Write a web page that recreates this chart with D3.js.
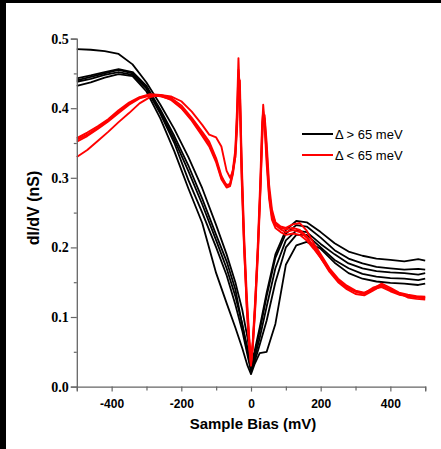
<!DOCTYPE html>
<html><head><meta charset="utf-8">
<script src="https://cdn.jsdelivr.net/npm/d3@7"></script>
<style>body{margin:0;background:#fff}svg{display:block}</style>
</head><body>
<script>
// ---------- data ----------
const biasBlack = [-500,-460,-420,-380,-340,-300,-260,-220,-180,-140,-100,-70,-45,-25,-10,0,10,25,45,70,100,130,160,200,240,280,320,360,400,440,480,500];
const black1 = [0.485,0.484,0.482,0.478,0.463,0.437,0.405,0.370,0.330,0.285,0.232,0.190,0.150,0.110,0.070,0.035,0.050,0.085,0.135,0.190,0.225,0.238,0.236,0.222,0.206,0.194,0.188,0.184,0.182,0.180,0.183,0.181];
const black2 = [0.443,0.447,0.452,0.456,0.452,0.432,0.398,0.360,0.318,0.270,0.218,0.180,0.140,0.088,0.055,0.030,0.045,0.080,0.130,0.185,0.220,0.232,0.230,0.214,0.196,0.184,0.177,0.172,0.170,0.168,0.169,0.168];
const black3 = [0.438,0.442,0.448,0.452,0.448,0.428,0.392,0.350,0.297,0.250,0.200,0.160,0.118,0.080,0.045,0.022,0.035,0.060,0.095,0.150,0.200,0.218,0.218,0.200,0.182,0.170,0.162,0.158,0.156,0.155,0.153,0.155];
const black4 = [0.432,0.437,0.444,0.449,0.446,0.424,0.385,0.338,0.285,0.235,0.163,0.120,0.085,0.055,0.030,0.018,0.032,0.048,0.050,0.090,0.175,0.203,0.208,0.198,0.178,0.163,0.155,0.151,0.149,0.148,0.146,0.148];
const black5 = [0.440,0.445,0.450,0.455,0.450,0.430,0.395,0.355,0.310,0.262,0.210,0.170,0.130,0.090,0.050,0.025,0.040,0.070,0.115,0.170,0.210,0.224,0.222,0.205,0.190,0.177,0.170,0.166,0.164,0.163,0.161,0.163];

const biasRed = [-500,-470,-440,-410,-380,-350,-320,-290,-260,-230,-200,-170,-140,-120,-100,-85,-70,-60,-52,-45,-40,-36,-32,-27,-20,-12,-5,0,5,12,20,27,32,35,39,45,52,60,70,85,100,120,140,160,180,200,225,250,275,300,325,350,375,400,425,450,475,500];
const red1 = [0.357,0.365,0.374,0.384,0.397,0.408,0.416,0.420,0.419,0.415,0.404,0.386,0.366,0.352,0.328,0.303,0.288,0.292,0.312,0.340,0.400,0.472,0.410,0.300,0.200,0.115,0.060,0.032,0.060,0.115,0.200,0.290,0.370,0.405,0.380,0.330,0.275,0.245,0.232,0.226,0.222,0.225,0.222,0.214,0.202,0.188,0.168,0.152,0.142,0.136,0.133,0.140,0.143,0.137,0.132,0.130,0.128,0.127];
const red2 = [0.352,0.360,0.370,0.381,0.393,0.405,0.414,0.418,0.418,0.412,0.400,0.382,0.360,0.345,0.322,0.298,0.286,0.288,0.305,0.330,0.380,0.440,0.420,0.320,0.210,0.120,0.065,0.035,0.055,0.110,0.190,0.280,0.350,0.390,0.385,0.340,0.280,0.250,0.235,0.228,0.226,0.228,0.225,0.216,0.200,0.185,0.165,0.150,0.140,0.133,0.131,0.138,0.145,0.140,0.134,0.128,0.126,0.125];
const red3 = [0.355,0.362,0.372,0.383,0.395,0.406,0.415,0.419,0.417,0.413,0.401,0.384,0.363,0.348,0.325,0.300,0.290,0.290,0.308,0.335,0.390,0.455,0.430,0.310,0.205,0.110,0.055,0.030,0.058,0.120,0.210,0.300,0.380,0.395,0.375,0.320,0.270,0.240,0.228,0.222,0.218,0.220,0.218,0.210,0.198,0.185,0.167,0.153,0.143,0.137,0.134,0.142,0.146,0.139,0.133,0.131,0.129,0.128];
const red4 = [0.330,0.340,0.353,0.366,0.380,0.393,0.407,0.416,0.419,0.417,0.410,0.395,0.376,0.362,0.358,0.345,0.310,0.300,0.310,0.330,0.370,0.430,0.440,0.330,0.220,0.130,0.070,0.040,0.065,0.125,0.200,0.285,0.360,0.385,0.390,0.350,0.290,0.255,0.236,0.230,0.228,0.233,0.235,0.224,0.206,0.190,0.170,0.155,0.145,0.138,0.135,0.140,0.148,0.142,0.135,0.132,0.130,0.129];

const xTicks = [-400,-200,0,200,400];
const xMinor = [-500,-300,-100,100,300,500];
const yTicks = [0.0,0.1,0.2,0.3,0.4,0.5];
const yMinor = [0.05,0.15,0.25,0.35,0.45];
const legendLabels = ["\u0394 > 65 meV","\u0394 < 65 meV"];

// ---------- drawing ----------
const W = 441, H = 449;
const svg = d3.select("body").append("svg").attr("width", W).attr("height", H);
svg.append("rect").attr("width", W).attr("height", H).attr("fill", "#fff");
svg.append("rect").attr("x",0).attr("y",0).attr("width",W).attr("height",3).attr("fill","#000");
svg.append("rect").attr("x",0).attr("y",0).attr("width",6).attr("height",H).attr("fill","#000");

const x = d3.scaleLinear().domain([-500,500]).range([76.8,425.2]);
const y = d3.scaleLinear().domain([0,0.5]).range([386.6,38.6]);

const line = (bias) => d3.line().x((d,i)=>x(bias[i])).y(d=>y(d));

const blacks = [black1,black2,black3,black4,black5];
const reds = [red1,red2,red3,red4];

const plot = svg.append("g");
blacks.forEach(s => plot.append("path").datum(s).attr("d", line(biasBlack))
  .attr("fill","none").attr("stroke","#000").attr("stroke-width",1.8).attr("stroke-linejoin","round"));
reds.forEach(s => plot.append("path").datum(s).attr("d", line(biasRed))
  .attr("fill","none").attr("stroke","#ff0000").attr("stroke-width",1.9).attr("stroke-linejoin","round"));

const axisColor = "#666";
const gx = svg.append("g").attr("transform","translate(0,386.6)");
gx.call(d3.axisBottom(x).tickValues(xTicks).tickSize(5).tickFormat(d => String(d)));
gx.append("g").call(d3.axisBottom(x).tickValues(xMinor).tickSize(4).tickFormat(""));
gx.selectAll(".domain").attr("stroke",axisColor).attr("stroke-width",1.3);
gx.selectAll(".tick line").attr("stroke",axisColor).attr("stroke-width",1.2);
gx.selectAll(".tick text").attr("fill","#000").attr("font-family","Liberation Sans, Arial, sans-serif")
  .attr("font-weight","bold").attr("font-size",12).attr("dy","1.1em").attr("y",8);
gx.selectAll("g g .domain").remove();

const gy = svg.append("g").attr("transform","translate(76.8,0)");
gy.call(d3.axisLeft(y).tickValues(yTicks).tickSize(6).tickFormat(d3.format(".1f")));
gy.append("g").call(d3.axisLeft(y).tickValues(yMinor).tickSize(3).tickFormat(""));
gy.selectAll(".domain").attr("stroke",axisColor).attr("stroke-width",1.3);
gy.selectAll(".tick line").attr("stroke",axisColor).attr("stroke-width",1.2);
gy.selectAll(".tick text").attr("fill","#000").attr("font-family","Liberation Serif, Times New Roman, serif")
  .attr("font-weight","bold").attr("font-size",14).attr("x",-8);
gy.selectAll("g g .domain").remove();

svg.append("text").attr("x",253).attr("y",429).attr("text-anchor","middle")
  .attr("font-family","Liberation Sans, Arial, sans-serif").attr("font-weight","bold").attr("font-size",15)
  .text("Sample Bias (mV)");
svg.append("text").attr("transform","translate(39,208) rotate(-90)").attr("text-anchor","middle")
  .attr("font-family","Liberation Sans, Arial, sans-serif").attr("font-weight","bold").attr("font-size",16)
  .text("dI/dV (nS)");

const legColors = ["#000","#ff0000"];
legendLabels.forEach((t,i) => {
  const ly = 134 + i*21;
  svg.append("line").attr("x1",302).attr("x2",333).attr("y1",ly).attr("y2",ly)
    .attr("stroke",legColors[i]).attr("stroke-width",2);
  svg.append("text").attr("x",335).attr("y",ly+5).attr("font-family","Liberation Sans, Arial, sans-serif")
    .attr("font-size",13).attr("fill","#000").text(t);
});
</script>
</body></html>
